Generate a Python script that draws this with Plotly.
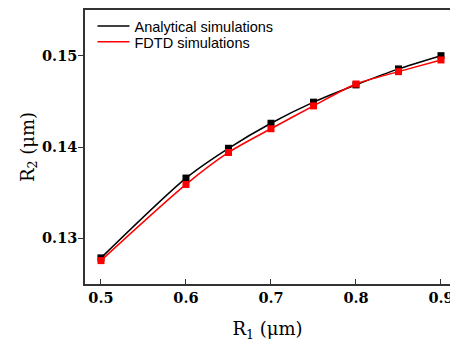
import plotly.graph_objects as go

# Inner radius R1 (µm) and the matching outer radius R2 (µm)
r1 = [0.5, 0.6, 0.65, 0.7, 0.75, 0.8, 0.85, 0.9]
r2_analytical = [0.12786, 0.1366, 0.13986, 0.1426, 0.14491, 0.1468, 0.14855, 0.1500]
r2_fdtd = [0.12756, 0.1359, 0.1394, 0.1420, 0.1445, 0.1469, 0.14825, 0.14953]

x_ticks = [0.5, 0.6, 0.7, 0.8, 0.9]
x_tick_text = ["0.5", "0.6", "0.7", "0.8", "0.9"]
y_ticks = [0.13, 0.14, 0.15]
y_tick_text = ["0.13", "0.14", "0.15"]

# each series gets its own one-entry legend so the rows can sit close together
series = [
    ("Analytical simulations", r2_analytical, "#000000", "legend"),
    ("FDTD simulations", r2_fdtd, "#ff0000", "legend2"),
]

fig = go.Figure()
for name, ys, color, leg in series:
    fig.add_trace(go.Scatter(
        x=r1, y=ys, name=name, mode="lines", legend=leg,
        line=dict(color=color, width=1.5, shape="spline", smoothing=0.8),
    ))
    fig.add_trace(go.Scatter(
        x=r1, y=ys, mode="markers", showlegend=False, hoverinfo="skip",
        marker=dict(symbol="square", size=7, color=color),
    ))

tick_font = dict(family="DejaVu Serif", size=14.5, color="#000000", weight="bold")
title_font = dict(family="DejaVu Serif", size=18, color="#000000")
legend_font = dict(family="Liberation Sans, Arial", size=14.5, color="#000000")


def legend_box(y):
    return dict(
        x=0.0205, y=y, xanchor="left", yanchor="middle",
        bgcolor="rgba(0,0,0,0)", font=legend_font, itemwidth=32,
    )


fig.update_layout(
    width=450, height=342,
    margin=dict(l=85, r=0, t=10, b=58, autoexpand=False),
    paper_bgcolor="white", plot_bgcolor="white",
    showlegend=True,
    legend=legend_box(0.9413),
    legend2=legend_box(0.8834),
)
fig.update_xaxes(
    range=[0.4812, 0.9106], automargin=False,
    tickvals=x_ticks, ticktext=x_tick_text,
    ticks="inside", ticklen=5, tickwidth=1.2, tickcolor="#333333",
    ticklabeloverflow="allow",
    showline=True, linecolor="#333333", linewidth=1.5, mirror=True,
    showgrid=False, zeroline=False,
    tickfont=tick_font,
    title=dict(text="R<sub>1</sub> (\u03bcm)", font=title_font, standoff=23),
)
fig.update_yaxes(
    range=[0.125, 0.155], automargin=False,
    tickvals=y_ticks, ticktext=y_tick_text,
    ticks="outside", ticklen=5, tickwidth=1.2, tickcolor="#333333",
    showline=True, linecolor="#333333", linewidth=1.5,
    showgrid=False, zeroline=False,
    tickfont=tick_font, ticklabelstandoff=-2,
    title=dict(text="R<sub>2</sub> (\u03bcm)", font=title_font, standoff=3),
)

fig.write_html("out.html")
